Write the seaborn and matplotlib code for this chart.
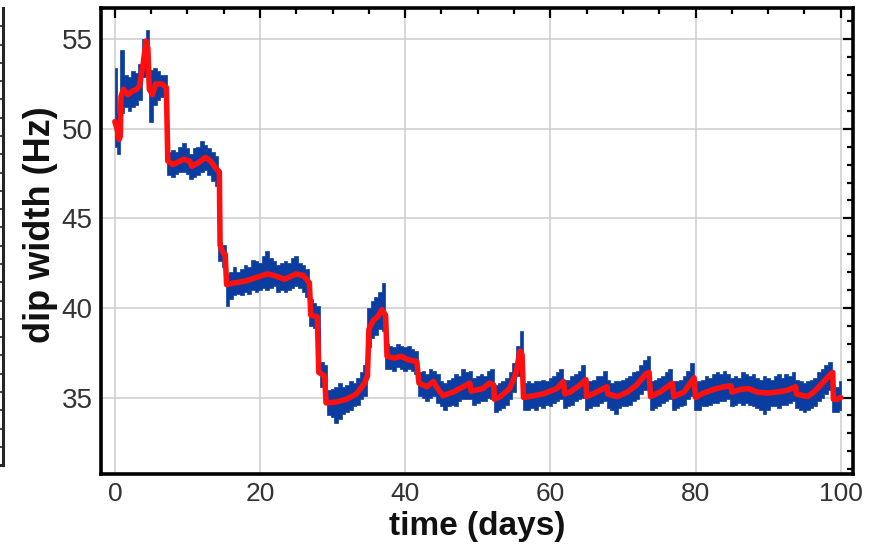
import numpy as np
import pandas as pd
import matplotlib
matplotlib.use("Agg")
import matplotlib.pyplot as plt
import seaborn as sns
from matplotlib.ticker import MultipleLocator

# ── data ──────────────────────────────────────────────────────
# smoothed trace (red), knots in days / Hz
red_t = [0.0, 0.3, 0.6, 0.75, 0.85, 1.2, 1.8, 2.4, 3.0, 3.4, 3.9, 4.3, 4.55, 4.75,
         5.2, 5.6, 6.5, 7.1, 7.3, 8.0, 9.5, 10.3, 10.6, 11.5, 12.5, 13.2, 13.9,
         14.4, 14.5, 14.9, 15.2, 15.4, 16.5, 18.0, 19.5, 21.0, 22.0, 23.4, 25.0,
         26.0, 26.8, 27.0, 27.9, 28.1, 28.9, 29.1, 30.5, 31.9, 33.3, 34.4, 34.8,
         35.0, 35.6, 36.2, 36.8, 37.3, 37.5, 38.5, 39.4, 40.5, 41.6, 41.9, 43.0,
         43.9, 44.3, 45.2, 46.6, 48.0, 48.9, 49.1, 50.7, 51.6, 52.2, 52.3, 53.1,
         54.4, 55.3, 55.8, 56.1, 56.3, 57.7, 59.0, 60.9, 61.8, 62.0, 62.7, 64.1,
         64.9, 65.0, 66.4, 67.3, 67.8, 67.9, 69.2, 70.6, 71.9, 73.1, 73.6, 73.8,
         75.1, 76.8, 77.0, 78.4, 79.8, 80.0, 81.1, 82.5, 83.9, 84.9, 85.0, 86.2,
         87.3, 88.5, 89.9, 91.2, 92.6, 93.8, 93.9, 95.4, 96.3, 97.7, 98.6, 98.9,
         99.0, 99.5, 100.0]
red_v = [50.4, 50.0, 49.4, 49.6, 51.8, 52.2, 51.9, 52.1, 52.2, 52.4, 53.6, 54.9, 54.5, 52.2,
         51.9, 52.5, 52.5, 52.3, 48.2, 48.0, 48.3, 48.2, 47.9, 48.1, 48.4, 48.2, 47.8,
         47.6, 43.5, 43.1, 43.0, 41.3, 41.4, 41.5, 41.7, 41.9, 41.8, 41.6, 41.9,
         41.8, 41.4, 39.6, 39.5, 36.4, 36.2, 34.7, 34.75, 34.9, 35.2, 35.8, 36.2,
         38.8, 39.3, 39.5, 39.9, 39.6, 37.3, 37.2, 37.3, 37.1, 37.0, 35.8, 35.6,
         35.9, 35.6, 35.1, 35.3, 35.6, 35.8, 35.35, 35.5, 35.8, 35.7, 34.9, 35.05,
         35.5, 36.4, 37.6, 37.4, 35.0, 35.1, 35.2, 35.5, 35.9, 35.2, 35.3, 35.7,
         36.0, 35.05, 35.3, 35.5, 35.6, 35.2, 35.05, 35.3, 35.7, 36.3, 36.4, 35.05,
         35.3, 35.8, 35.05, 35.3, 36.1, 35.0, 35.25, 35.45, 35.6, 35.65, 35.3, 35.45,
         35.5, 35.3, 35.25, 35.3, 35.4, 35.6, 35.2, 35.05, 35.3, 35.9, 36.3, 36.4,
         34.9, 34.9, 35.0]

# raw measurements (blue): upper / lower edge of the cloud every half day
blue_t = np.arange(0, 100.5, 0.5)
blue_hi = [53.4, 50.9, 54.4, 53.0, 52.9, 53.2, 53.1, 53.6, 55.0, 55.5,
           53.3, 53.4, 53.2, 53.0, 53.0, 48.7, 48.8, 48.7, 49.0, 49.2,
           48.9, 48.6, 48.9, 49.0, 49.3, 49.1, 48.9, 48.7, 48.5, 43.7,
           43.5, 41.9, 42.0, 42.3, 42.0, 42.2, 42.4, 42.3, 42.7, 42.6,
           42.5, 42.9, 43.2, 42.8, 42.6, 42.4, 42.5, 42.6, 42.5, 42.8,
           42.9, 42.5, 42.4, 42.2, 40.5, 40.3, 40.1, 37.0, 36.8, 35.4,
           35.5, 35.6, 35.8, 35.6, 35.7, 35.9, 35.8, 36.1, 36.4, 36.8,
           40.0, 40.4, 40.6, 40.9, 41.4, 38.0, 37.9, 37.8, 38.0, 37.9,
           37.8, 37.9, 37.7, 37.6, 36.4, 36.5, 36.3, 36.6, 36.5, 36.3,
           35.9, 35.8, 36.0, 36.1, 36.3, 36.2, 36.6, 36.4, 36.5, 36.1,
           36.2, 36.3, 36.2, 36.5, 36.6, 35.7, 35.8, 35.9, 36.1, 36.4,
           36.9, 37.9, 38.7, 35.8, 35.9, 35.8, 35.9, 35.9, 36.0, 35.9,
           36.1, 36.2, 36.4, 36.6, 36.0, 36.0, 36.2, 36.3, 36.5, 36.8,
           35.8, 35.9, 36.0, 36.2, 36.2, 36.5, 36.0, 35.8, 35.9, 35.9,
           36.0, 36.1, 36.2, 36.4, 36.5, 36.8, 37.1, 37.3, 35.9, 36.0,
           36.1, 36.2, 36.4, 36.6, 35.9, 35.9, 36.0, 36.2, 36.5, 36.9,
           35.8, 35.9, 36.0, 36.2, 36.1, 36.3, 36.4, 36.3, 36.5, 36.3,
           36.1, 36.2, 36.1, 36.4, 36.3, 36.2, 36.3, 36.1, 36.0, 36.2,
           36.1, 36.0, 36.2, 36.3, 36.1, 36.3, 36.2, 36.4, 36.0, 35.9,
           35.8, 35.9, 36.0, 36.1, 36.4, 36.6, 36.8, 37.0, 35.7, 35.6,
           35.9]
blue_lo = [49.0, 48.6, 50.9, 51.2, 51.0, 51.2, 51.3, 51.6, 52.9, 53.4,
           50.4, 51.3, 51.6, 51.8, 51.6, 47.4, 47.3, 47.5, 47.6, 47.6,
           47.5, 47.2, 47.3, 47.4, 47.6, 47.7, 47.4, 47.1, 46.8, 42.6,
           42.3, 40.1, 40.5, 40.7, 40.8, 40.7, 40.9, 40.8, 41.0, 40.9,
           41.0, 41.1, 41.0, 41.1, 41.2, 40.9, 41.0, 40.9, 41.0, 41.1,
           41.2, 41.1, 40.9, 40.6, 39.0, 38.9, 38.9, 35.6, 35.5, 34.0,
           33.9, 33.6, 33.8, 34.1, 34.2, 34.3, 34.5, 34.6, 34.9, 35.1,
           37.8, 38.3, 38.5, 38.8, 38.7, 36.6, 36.6, 36.5, 36.7, 36.6,
           36.5, 36.6, 36.5, 36.3, 35.1, 35.0, 34.8, 35.0, 35.1, 34.7,
           34.5, 34.3, 34.5, 34.6, 34.5, 34.8, 34.9, 34.9, 34.9, 34.6,
           34.7, 34.8, 34.8, 35.0, 34.9, 34.2, 34.3, 34.4, 34.6, 34.9,
           35.3, 36.2, 36.6, 34.3, 34.3, 34.4, 34.3, 34.5, 34.4, 34.6,
           34.5, 34.7, 34.8, 34.9, 34.4, 34.5, 34.6, 34.8, 34.9, 35.0,
           34.3, 34.4, 34.5, 34.5, 34.7, 34.8, 34.4, 34.3, 34.1, 34.4,
           34.5, 34.5, 34.6, 34.8, 34.9, 35.2, 35.4, 35.6, 34.3, 34.4,
           34.5, 34.7, 34.8, 34.9, 34.3, 34.4, 34.5, 34.6, 34.9, 35.1,
           34.3, 34.3, 34.5, 34.5, 34.6, 34.7, 34.7, 34.8, 34.8, 34.9,
           34.5, 34.6, 34.7, 34.6, 34.7, 34.6, 34.5, 34.4, 34.3, 34.1,
           34.3, 34.5, 34.5, 34.4, 34.6, 34.6, 34.7, 34.8, 34.4, 34.3,
           34.2, 34.3, 34.4, 34.5, 34.8, 35.0, 35.2, 35.4, 34.2, 34.2,
           34.3]

x_ticks = [0, 20, 40, 60, 80, 100]
y_ticks = [35, 40, 45, 50, 55]

red_df = pd.DataFrame({"t": red_t, "v": red_v})

# ── style ─────────────────────────────────────────────────────
sns.set_style("white")
plt.rcParams["font.family"] = ["Liberation Sans", "DejaVu Sans"]

fig = plt.figure(figsize=(8.77, 5.57), dpi=100)
ax = fig.add_axes([0.1152, 0.149, 0.8575, 0.8366])

# ── plot ──────────────────────────────────────────────────────
ax.fill_between(blue_t, blue_lo, blue_hi, step="mid", color="#0b3c9f",
                lw=0.5, zorder=2)
sns.lineplot(data=red_df, x="t", y="v", ax=ax, color="#ff1010", lw=4,
             sort=False, estimator=None, zorder=3)

ax.set_xlim(-1.9, 101.7)
ax.set_ylim(30.73, 56.74)
ax.set_xticks(x_ticks)
ax.set_yticks(y_ticks)
ax.xaxis.set_minor_locator(MultipleLocator(5))
ax.yaxis.set_minor_locator(MultipleLocator(1))
ax.tick_params(which="both", direction="in", top=True, right=True,
               color="black", width=1.6)
ax.tick_params(which="major", length=7, labelsize=20, labelcolor="#333333", pad=6)
ax.tick_params(axis="x", which="major", labelsize=19)
ax.tick_params(which="minor", length=4)

ax.grid(True, which="major", color="#cdcdcd", lw=1.1)
ax.set_axisbelow(True)
for s in ax.spines.values():
    s.set_linewidth(2.6)
    s.set_color("black")

ax.set_xlabel("time (days)", fontsize=24, fontweight="bold", color="#111111")
ax.set_ylabel("dip width (Hz)", fontsize=26, fontweight="bold", color="#111111")
ax.xaxis.set_label_coords(0.5, -0.08)
ax.yaxis.set_label_coords(-0.057, 0.534)

# edge of the neighbouring panel, cut off at the left border
ax0 = fig.add_axes([-0.05, 0.165, 0.0535, 0.8206])
ax0.set_xlim(0, 1)
ax0.set_ylim(0, 25)
ax0.set_yticks(np.arange(1, 25))
ax0.set_xticks([])
ax0.tick_params(axis="y", direction="in", right=True, left=False,
                labelleft=False, length=4, width=1.2)
for k in ["top", "left"]:
    ax0.spines[k].set_visible(False)
for k in ["right", "bottom"]:
    ax0.spines[k].set_linewidth(2.2)

fig.savefig("out.png", dpi=100)
